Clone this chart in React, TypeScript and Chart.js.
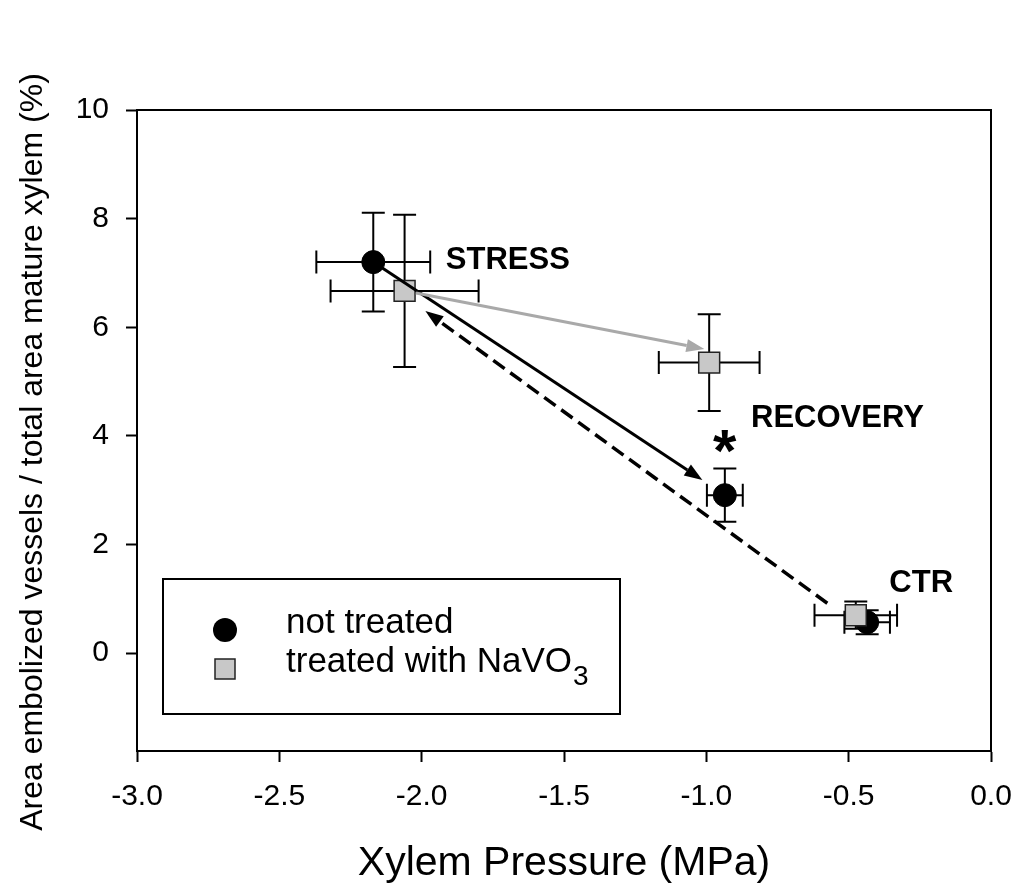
import React, { useEffect, useRef } from 'react';
import { Chart, registerables } from 'chart.js';

Chart.register(...registerables);

// ---- data ----
const GROUPS = ['CTR', 'STRESS', 'RECOVERY'];

const NOT_TREATED_X = [-0.435, -2.17, -0.935];
const NOT_TREATED_Y = [0.57, 7.2, 2.91];
const NOT_TREATED_XERR = [0.08, 0.2, 0.063];
const NOT_TREATED_YERR = [0.22, 0.91, 0.49];

const TREATED_X = [-0.475, -2.06, -0.99];
const TREATED_Y = [0.7, 6.67, 5.35];
const TREATED_XERR = [0.145, 0.26, 0.177];
const TREATED_YERR = [0.25, 1.4, 0.89];

const X_TICKS = [-3.0, -2.5, -2.0, -1.5, -1.0, -0.5, 0.0];
const Y_TICKS = [0, 2, 4, 6, 8, 10];
const X_MIN = -3;
const X_MAX = 0;
const Y_MIN = -1.8;
const Y_MAX = 10;

// group labels (data coords of the cap-height centre / left edge)
const LABEL_X = [-0.357, -1.915, -0.843];
const LABEL_Y = [1.34, 7.28, 4.37];

// significance asterisk
const ASTERISK_X = -0.936;
const ASTERISK_Y = 3.89;

// arrows: solid black (stress->recovery, not treated), grey (stress->recovery, treated), dashed (ctr->stress)
const ARROW_FROM_X = [-2.17, -2.02, -0.575];
const ARROW_FROM_Y = [7.2, 6.63, 0.92];
const ARROW_TO_X = [-1.014, -1.007, -1.987];
const ARROW_TO_Y = [3.19, 5.6, 6.3];

const SERIES_NAMES = ['not treated', 'treated with NaVO'];
const SUBSCRIPT = '3';
const X_TITLE = 'Xylem Pressure (MPa)';
const Y_TITLE = 'Area embolized vessels / total area mature xylem (%)';

const FONT = "'Liberation Sans', Arial, Helvetica, sans-serif";
const GREY_FILL = '#c8c8c8';
const GREY_ARROW = '#a9a9a9';

const ARROW_STYLES = [
  { color: '#000', dash: [] as number[], width: 3 },
  { color: GREY_ARROW, dash: [] as number[], width: 3 },
  { color: '#000', dash: [14, 7], width: 3.5 },
];

function drawArrow(ctx: CanvasRenderingContext2D, x0: number, y0: number, x1: number, y1: number, style: any) {
  const ang = Math.atan2(y1 - y0, x1 - x0);
  const headLen = 18;
  const headHalf = 6.5;
  const bx = x1 - headLen * Math.cos(ang);
  const by = y1 - headLen * Math.sin(ang);
  ctx.save();
  ctx.strokeStyle = style.color;
  ctx.fillStyle = style.color;
  ctx.lineWidth = style.width;
  ctx.setLineDash(style.dash);
  ctx.beginPath();
  ctx.moveTo(x0, y0);
  ctx.lineTo(bx, by);
  ctx.stroke();
  ctx.setLineDash([]);
  ctx.beginPath();
  ctx.moveTo(x1, y1);
  ctx.lineTo(bx + headHalf * Math.sin(ang), by - headHalf * Math.cos(ang));
  ctx.lineTo(bx - headHalf * Math.sin(ang), by + headHalf * Math.cos(ang));
  ctx.closePath();
  ctx.fill();
  ctx.restore();
}

const ERR_SETS = [
  { x: NOT_TREATED_X, y: NOT_TREATED_Y, xe: NOT_TREATED_XERR, ye: NOT_TREATED_YERR },
  { x: TREATED_X, y: TREATED_Y, xe: TREATED_XERR, ye: TREATED_YERR },
];

const annotationPlugin = {
  id: 'annotations',
  beforeDatasetsDraw(chart: any) {
    const { ctx, scales } = chart;
    const xs = scales.x;
    const ys = scales.y;
    const cap = 11.5;
    ctx.save();
    ctx.strokeStyle = '#000';
    ctx.lineWidth = 2;
    ERR_SETS.forEach((s) => {
      s.x.forEach((xv: number, i: number) => {
        const px = xs.getPixelForValue(xv);
        const py = ys.getPixelForValue(s.y[i]);
        const xl = xs.getPixelForValue(xv - s.xe[i]);
        const xr = xs.getPixelForValue(xv + s.xe[i]);
        const yt = ys.getPixelForValue(s.y[i] + s.ye[i]);
        const yb = ys.getPixelForValue(s.y[i] - s.ye[i]);
        ctx.beginPath();
        ctx.moveTo(xl, py); ctx.lineTo(xr, py);
        ctx.moveTo(xl, py - cap); ctx.lineTo(xl, py + cap);
        ctx.moveTo(xr, py - cap); ctx.lineTo(xr, py + cap);
        ctx.moveTo(px, yt); ctx.lineTo(px, yb);
        ctx.moveTo(px - cap, yt); ctx.lineTo(px + cap, yt);
        ctx.moveTo(px - cap, yb); ctx.lineTo(px + cap, yb);
        ctx.stroke();
      });
    });
    ctx.restore();
  },
  afterDatasetsDraw(chart: any) {
    const { ctx, scales, chartArea } = chart;
    const xs = scales.x;
    const ys = scales.y;

    // arrows
    ARROW_FROM_X.forEach((fx, i) => {
      drawArrow(
        ctx,
        xs.getPixelForValue(fx),
        ys.getPixelForValue(ARROW_FROM_Y[i]),
        xs.getPixelForValue(ARROW_TO_X[i]),
        ys.getPixelForValue(ARROW_TO_Y[i]),
        ARROW_STYLES[i]
      );
    });

    // group labels
    ctx.save();
    ctx.fillStyle = '#000';
    ctx.textAlign = 'left';
    ctx.textBaseline = 'alphabetic';
    const lblSize = 31;
    ctx.font = `bold ${lblSize}px ${FONT}`;
    GROUPS.forEach((g, i) => {
      const px = xs.getPixelForValue(LABEL_X[i]);
      const py = ys.getPixelForValue(LABEL_Y[i]);
      ctx.fillText(g, px, py + 0.358 * lblSize);
    });
    // asterisk
    ctx.font = `bold 60px ${FONT}`;
    ctx.textAlign = 'center';
    ctx.textBaseline = 'alphabetic';
    ctx.fillText('*', xs.getPixelForValue(ASTERISK_X), ys.getPixelForValue(ASTERISK_Y) + 29);
    ctx.restore();

    // frame (top & right)
    ctx.save();
    ctx.strokeStyle = '#000';
    ctx.lineWidth = 2;
    ctx.strokeRect(chartArea.left, chartArea.top, chartArea.right - chartArea.left, chartArea.bottom - chartArea.top);
    ctx.restore();

    // legend box
    ctx.save();
    const bx = chartArea.left + 26;
    const by = 579;
    ctx.fillStyle = '#fff';
    ctx.fillRect(bx, by, 457, 135);
    ctx.strokeStyle = '#000';
    ctx.lineWidth = 2;
    ctx.strokeRect(bx, by, 457, 135);
    const mx = bx + 62;
    // circle marker
    ctx.fillStyle = '#000';
    ctx.beginPath();
    ctx.arc(mx, by + 51, 12, 0, Math.PI * 2);
    ctx.fill();
    // square marker
    ctx.fillStyle = GREY_FILL;
    ctx.strokeStyle = '#222';
    ctx.lineWidth = 1.5;
    ctx.fillRect(mx - 10, by + 80, 20, 20);
    ctx.strokeRect(mx - 10, by + 80, 20, 20);
    // texts
    ctx.fillStyle = '#000';
    ctx.textAlign = 'left';
    ctx.textBaseline = 'alphabetic';
    ctx.font = `35px ${FONT}`;
    const tx = bx + 123;
    ctx.fillText(SERIES_NAMES[0], tx, by + 54);
    ctx.fillText(SERIES_NAMES[1], tx, by + 93);
    const w = ctx.measureText(SERIES_NAMES[1]).width;
    ctx.font = `28px ${FONT}`;
    ctx.fillText(SUBSCRIPT, tx + w + 1, by + 106);
    ctx.restore();

    // y-axis title
    ctx.save();
    ctx.fillStyle = '#000';
    ctx.font = `32px ${FONT}`;
    ctx.textAlign = 'center';
    ctx.textBaseline = 'alphabetic';
    ctx.translate(42, 452);
    ctx.rotate(-Math.PI / 2);
    ctx.fillText(Y_TITLE, 0, 0);
    ctx.restore();
  },
};

export default function App() {
  const canvasRef = useRef<HTMLCanvasElement | null>(null);

  useEffect(() => {
    if (!canvasRef.current) return;
    Chart.defaults.color = '#000';
    const chart = new Chart(canvasRef.current, {
      type: 'scatter',
      data: {
        datasets: [
          {
            label: SERIES_NAMES[0],
            data: NOT_TREATED_X.map((x, i) => ({ x, y: NOT_TREATED_Y[i] })),
            pointStyle: 'circle',
            pointRadius: 11.5,
            pointHoverRadius: 11.5,
            backgroundColor: '#000',
            borderColor: '#000',
            borderWidth: 1,
            order: 2,
          },
          {
            label: SERIES_NAMES[1] + SUBSCRIPT,
            data: TREATED_X.map((x, i) => ({ x, y: TREATED_Y[i] })),
            pointStyle: 'rect',
            pointRadius: 14.8,
            pointHoverRadius: 14.8,
            backgroundColor: GREY_FILL,
            borderColor: '#222',
            borderWidth: 1.5,
            order: 1,
          },
        ],
      },
      options: {
        animation: false,
        responsive: false,
        devicePixelRatio: 1,
        layout: { padding: { top: 110, right: 30, left: 0, bottom: 0 } },
        plugins: {
          legend: { display: false },
          tooltip: { enabled: false },
        },
        scales: {
          x: {
            type: 'linear',
            min: X_MIN,
            max: X_MAX,
            afterBuildTicks: (scale: any) => {
              scale.ticks = X_TICKS.map((v) => ({ value: v }));
            },
            afterFit: (scale: any) => {
              scale.height = 143;
              scale.paddingLeft = 0;
              scale.paddingRight = 0;
            },
            ticks: {
              font: { family: FONT, size: 30 },
              color: '#000',
              padding: 17,
              maxRotation: 0,
              autoSkip: false,
              callback: (v: any) => Number(v).toFixed(1),
            },
            grid: {
              drawOnChartArea: false,
              drawTicks: true,
              tickLength: 11,
              tickWidth: 2,
              tickColor: '#000',
              color: '#000',
            },
            border: { display: true, color: '#000', width: 2 },
            title: {
              display: true,
              text: X_TITLE,
              color: '#000',
              font: { family: FONT, size: 41 },
              padding: { top: 0, bottom: 6 },
            },
          },
          y: {
            type: 'linear',
            min: Y_MIN,
            max: Y_MAX,
            afterBuildTicks: (scale: any) => {
              scale.ticks = Y_TICKS.map((v) => ({ value: v }));
            },
            afterFit: (scale: any) => {
              scale.width = 137;
              scale.paddingTop = 0;
              scale.paddingBottom = 0;
            },
            ticks: {
              font: { family: FONT, size: 30 },
              color: '#000',
              padding: 17,
              autoSkip: false,
              callback: (v: any) => String(v),
            },
            grid: {
              drawOnChartArea: false,
              drawTicks: true,
              tickLength: 11,
              tickWidth: 2,
              tickColor: '#000',
              color: '#000',
            },
            border: { display: true, color: '#000', width: 2 },
          },
        },
      },
      plugins: [annotationPlugin],
    });
    return () => chart.destroy();
  }, []);

  return (
    <div style={{ position: 'absolute', left: 0, top: 0, width: 1021, height: 894, background: '#fff' }}>
      <canvas ref={canvasRef} width={1021} height={894} style={{ display: 'block' }} />
    </div>
  );
}
